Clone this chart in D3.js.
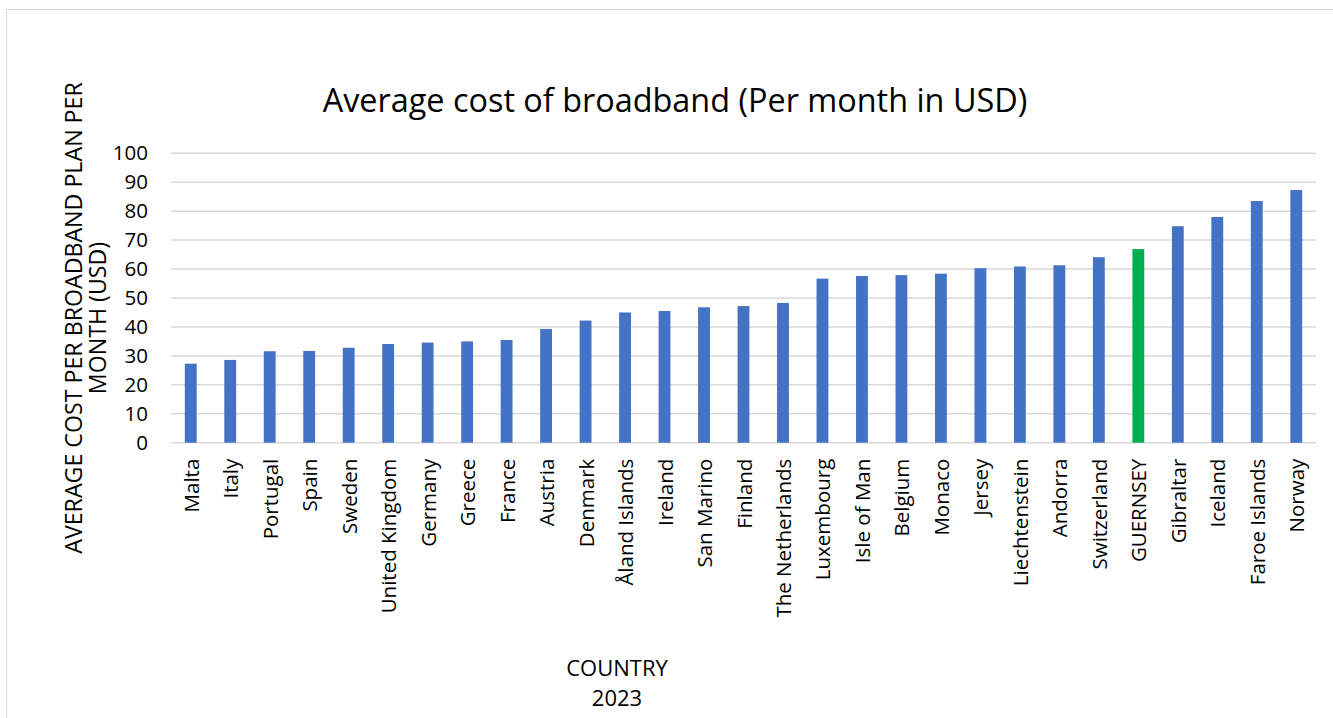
<!DOCTYPE html>
<html>
<head>
<meta charset="utf-8">
<script src="https://cdn.jsdelivr.net/npm/d3@7"></script>
<style>
  html, body { margin: 0; padding: 0; background: #fff; }
  svg { display: block; }
  text { font-family: "Open Sans", "Noto Sans", sans-serif; fill: #000; }
</style>
</head>
<body>
<svg id="chart" width="1333" height="718"></svg>
<script>
// Average monthly broadband cost per country, 2023 (USD)
const countries = [
  "Malta", "Italy", "Portugal", "Spain", "Sweden", "United Kingdom", "Germany",
  "Greece", "France", "Austria", "Denmark", "Åland Islands", "Ireland",
  "San Marino", "Finland", "The Netherlands", "Luxembourg", "Isle of Man",
  "Belgium", "Monaco", "Jersey", "Liechtenstein", "Andorra", "Switzerland",
  "GUERNSEY", "Gibraltar", "Iceland", "Faroe Islands", "Norway"
];
const costs = [
  27.3, 28.6, 31.6, 31.7, 32.8, 34.1, 34.6,
  35.0, 35.5, 39.3, 42.2, 45.0, 45.5,
  46.8, 47.2, 48.3, 56.7, 57.6,
  57.9, 58.4, 60.3, 60.9, 61.3, 64.1,
  66.9, 74.8, 78.0, 83.5, 87.3
];
const highlighted = ["GUERNSEY"];
const yTicks = [0, 10, 20, 30, 40, 50, 60, 70, 80, 90, 100];

const chartTitle = "Average cost of broadband (Per month in USD)";
const yTitleLines = ["AVERAGE COST PER BROADBAND PLAN PER", "MONTH (USD)"];
const xTitleLines = ["COUNTRY", "2023"];

const svg = d3.select("#chart");

// chart frame (top and left edges visible)
svg.append("rect")
  .attr("x", 6.5).attr("y", 9.5)
  .attr("width", 1400).attr("height", 800)
  .attr("fill", "none").attr("stroke", "#d9d9d9").attr("stroke-width", 1);

const plot = { left: 171, right: 1316, top: 153.3, bottom: 442.7 };

const x = d3.scaleBand()
  .domain(countries)
  .range([plot.left, plot.right])
  .padding(0);

const y = d3.scaleLinear()
  .domain([0, 100])
  .range([plot.bottom, plot.top]);

// horizontal gridlines
svg.append("g")
  .selectAll("line")
  .data(yTicks)
  .join("line")
  .attr("x1", plot.left).attr("x2", plot.right)
  .attr("y1", d => y(d)).attr("y2", d => y(d))
  .attr("stroke", "#d9d9d9").attr("stroke-width", 1.5);

// y axis tick labels
const yAxis = d3.axisLeft(y).tickValues(yTicks).tickSize(0).tickPadding(0);
svg.append("g")
  .attr("transform", `translate(${plot.left - 23},0)`)
  .call(yAxis)
  .call(g => g.select(".domain").remove())
  .selectAll("text")
  .style("font-family", "'Open Sans', sans-serif")
  .style("font-size", "20.5px")
  .attr("fill", "#000");

// bars
const barW = x.bandwidth() * 0.3;
svg.append("g")
  .selectAll("rect")
  .data(countries)
  .join("rect")
  .attr("x", d => x(d) + (x.bandwidth() - barW) / 2)
  .attr("width", barW)
  .attr("y", (d, i) => y(costs[i]))
  .attr("height", (d, i) => y(0) - y(costs[i]))
  .attr("fill", d => highlighted.includes(d) ? "#00b050" : "#4472c4");

// x axis category labels, rotated
const xAxis = d3.axisBottom(x).tickSize(0).tickPadding(0);
svg.append("g")
  .attr("transform", `translate(0,${plot.bottom})`)
  .call(xAxis)
  .call(g => g.select(".domain").remove())
  .selectAll("text")
  .style("font-family", "'Open Sans', sans-serif")
  .style("font-size", "20.5px")
  .attr("fill", "#000")
  .attr("text-anchor", "end")
  .attr("dy", null)
  .attr("dominant-baseline", "central")
  .attr("transform", "translate(0,16) rotate(-90)")
  .attr("x", 0).attr("y", 0);

// chart title
svg.append("text")
  .attr("x", 675).attr("y", 112)
  .attr("text-anchor", "middle")
  .style("font-size", "32.4px")
  .text(chartTitle);

// y axis title, two rotated lines
const yTitle = svg.append("text")
  .attr("transform", "translate(0,318) rotate(-90)")
  .attr("text-anchor", "middle")
  .style("font-size", "23.2px");
yTitle.selectAll("tspan")
  .data(yTitleLines)
  .join("tspan")
  .attr("x", 0)
  .attr("y", (d, i) => 82 + i * 24)
  .text(d => d);

// x axis title, two lines
svg.append("g")
  .selectAll("text")
  .data(xTitleLines)
  .join("text")
  .attr("x", 617)
  .attr("y", (d, i) => 676 + i * 30)
  .attr("text-anchor", "middle")
  .style("font-size", "22px")
  .text(d => d);
</script>
</body>
</html>
